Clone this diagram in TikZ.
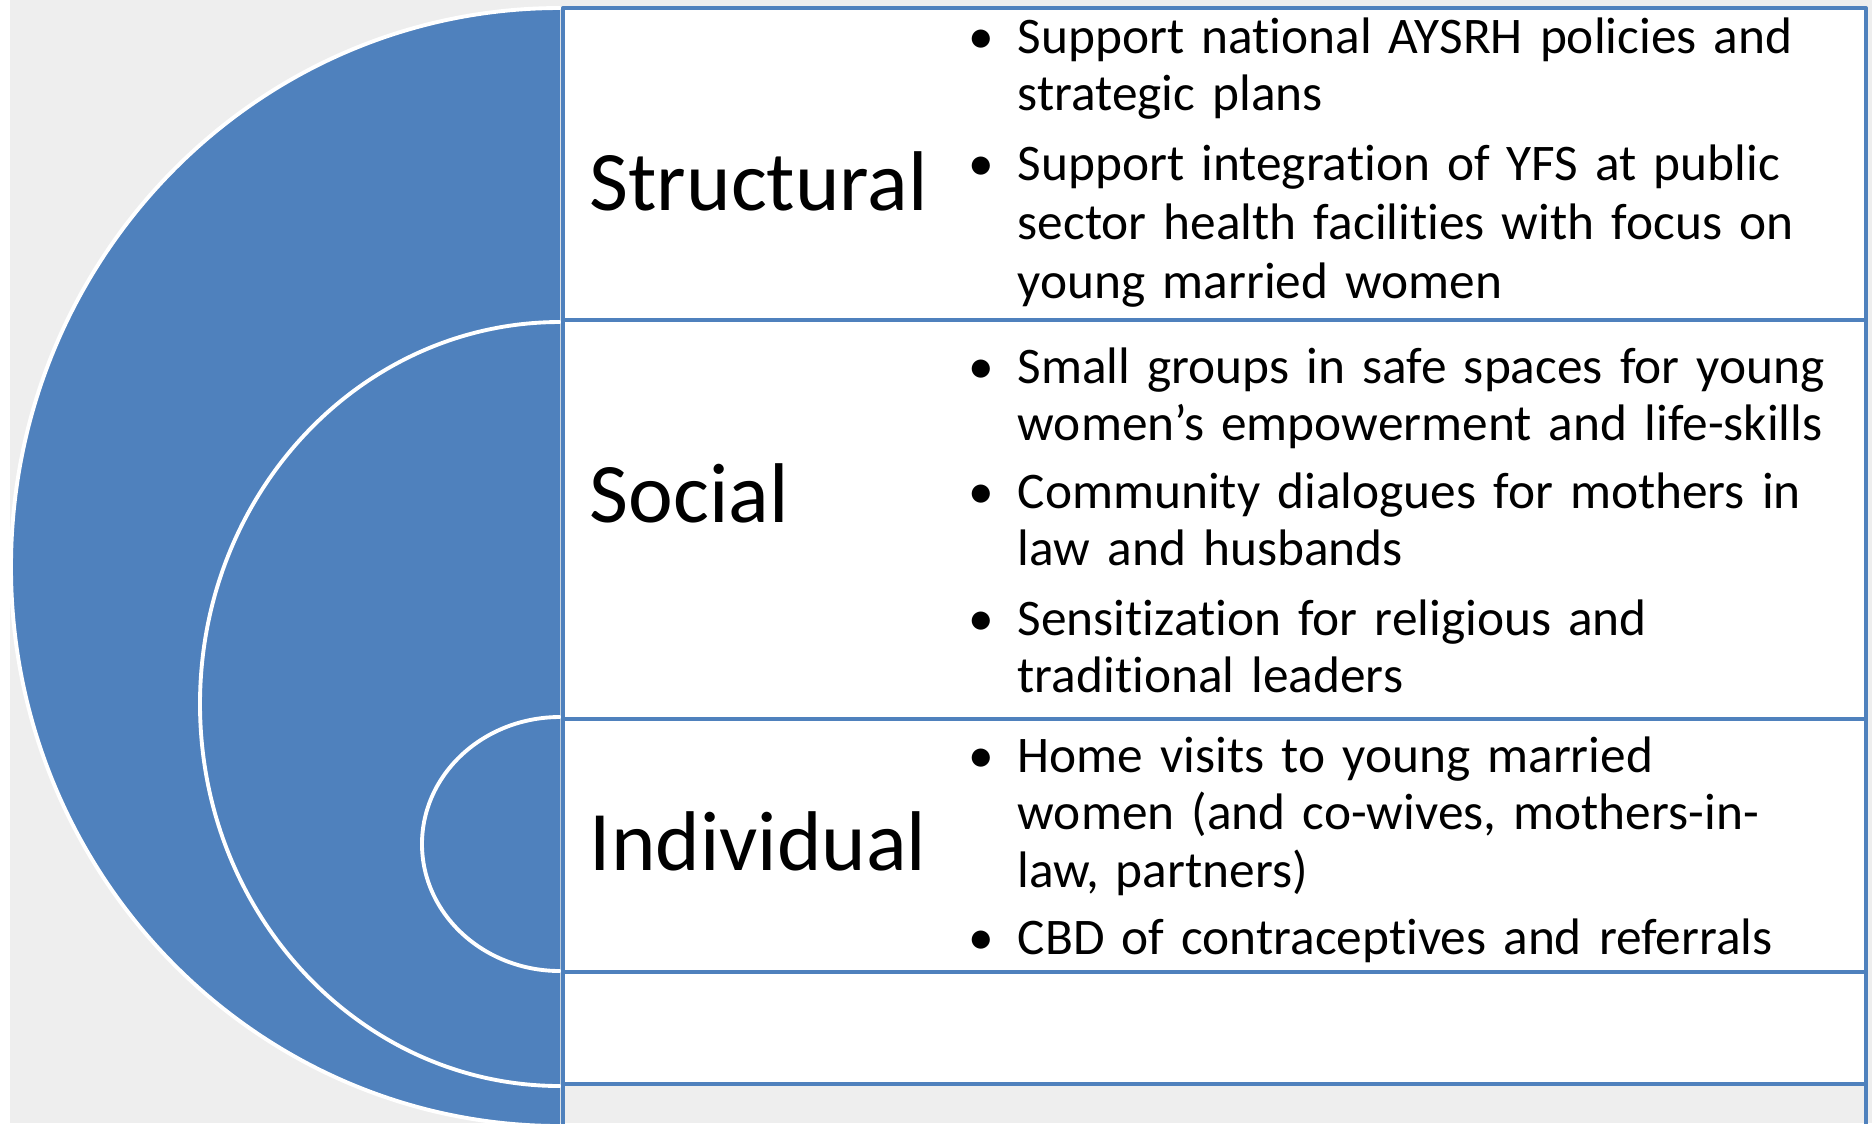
\documentclass[tikz,border=0pt]{standalone}
\usepackage{fontspec}
\setmainfont{Carlito}[Ligatures=NoCommon]
\usepackage{tikz}
\usetikzlibrary{calc}
\definecolor{ringblue}{HTML}{4F81BD}
\definecolor{paper}{HTML}{EEEEEE}
\tikzset{ring/.style={draw=white,line width=1.1pt,fill=ringblue}}
\tikzset{layerbox/.style={draw=ringblue,line width=1.15pt,fill=white}}
\tikzset{layer/.style={anchor=base west,inner sep=0pt,font=\fontsize{24.1}{29}\selectfont}}
\tikzset{item/.style={anchor=base west,inner sep=0pt,text width=8.5cm,align=left,font=\fontsize{14.6}{16.4}\selectfont}}
\tikzset{dot/.style={anchor=base,inner sep=0pt,font=\fontsize{14.6}{16.4}\selectfont}}

\begin{document}
\begin{tikzpicture}[line cap=round,line join=round,x=0.01cm,y=-0.01cm]
	\useasboundingbox (0,0) rectangle (1872,1123);
	\clip (0,0) rectangle (1872,1123);
	\fill[paper] (0,0) rectangle (1872,1123);
	\fill[white] (0,0) rectangle (10,1123);
	% nested half discs
	\draw[ring] (560,8) arc[start angle=270,end angle=90,x radius=549,y radius=559];
	\draw[ring] (560,322) arc[start angle=270,end angle=90,x radius=360,y radius=382];
	\draw[ring] (560,717) arc[start angle=270,end angle=90,x radius=138,y radius=127];
	% boxes
	\draw[layerbox] (563,8) rectangle (1866,320);
	\draw[layerbox] (563,320) rectangle (1866,719);
	\draw[layerbox] (563,719) rectangle (1866,972);
	\draw[layerbox] (563,972) rectangle (1866,1084);
	\draw[draw=ringblue,line width=1.15pt] (563,1084) rectangle (1866,1180);
	% layer names
	\node[layer] (structural) at (589,210) {Structural};
	\node[layer] (social) at (589,522) {Social};
	\node[layer] (individual) at (589,870) {Individual};
	% bullets
	\node[dot] (b1) at (981,53) {\textbullet};
	\node[item] (t1) at (1017,53) {Support national AYSRH policies and\\strategic plans};
	\node[dot] (b2) at (981,180) {\textbullet};
	\node[item,font=\fontsize{14.6}{16.8}\selectfont] (t2) at (1017,180) {Support integration of YFS at public\\sector health facilities with focus on\\young married women};
	\node[dot] (b3) at (981,383) {\textbullet};
	\node[item] (t3) at (1017,383) {Small groups in safe spaces for young\\women’s empowerment and life-skills};
	\node[dot] (b4) at (981,508) {\textbullet};
	\node[item] (t4) at (1017,508) {Community dialogues for mothers in\\law and husbands};
	\node[dot] (b5) at (981,635) {\textbullet};
	\node[item] (t5) at (1017,635) {Sensitization for religious and\\traditional leaders};
	\node[dot] (b6) at (981,772) {\textbullet};
	\node[item] (t6) at (1017,772) {Home visits to young married\\women (and co-wives, mothers-in-\\law, partners)};
	\node[dot] (b7) at (981,954) {\textbullet};
	\node[item] (t7) at (1017,954) {CBD of contraceptives and referrals};
\end{tikzpicture}
\end{document}
